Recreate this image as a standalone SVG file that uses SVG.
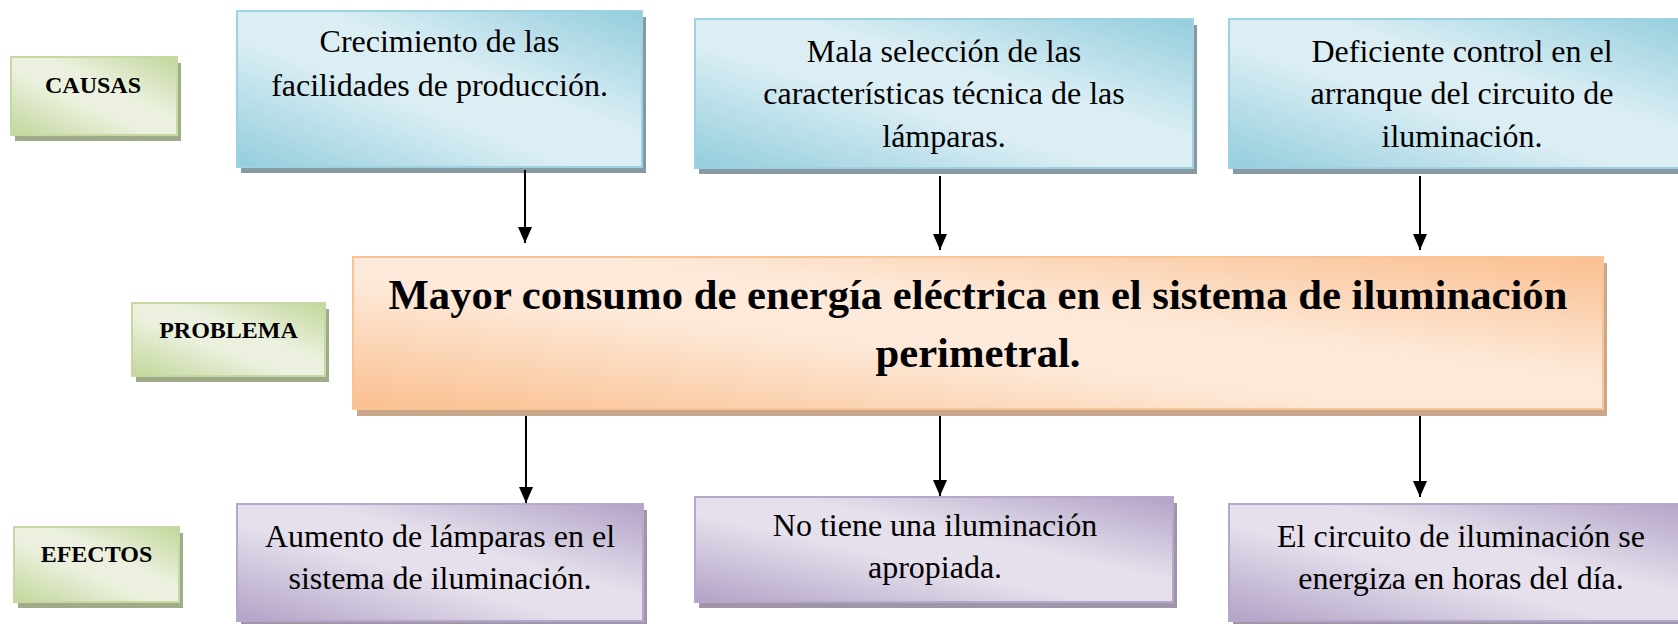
<svg xmlns="http://www.w3.org/2000/svg" width="1678" height="624" viewBox="0 0 1678 624">
<style>
.t{font-family:"Liberation Serif","Times New Roman",serif;font-size:32px;fill:#000;text-anchor:middle}
.lbl{font-family:"Liberation Serif","Times New Roman",serif;font-size:24px;font-weight:bold;fill:#000;text-anchor:middle}
.main{font-family:"Liberation Serif","Times New Roman",serif;font-size:42.7px;font-weight:bold;fill:#000;text-anchor:middle}
.blue{fill:url(#gBlue);stroke:#9fd2e0;stroke-width:2}
.org{fill:url(#gOrg);stroke:#f9c393;stroke-width:2}
.pur{fill:url(#gPur);stroke:#b7a8cb;stroke-width:2}
.grn{fill:url(#gGrn);stroke:#c7d9a2;stroke-width:2}
.sBlue{fill:#8799a2}
.sOrg{fill:#cba78b}
.sPur{fill:#9f97a9}
.sGrn{fill:#a0ab8a}
.arr{stroke:#000;stroke-width:2;fill:none;marker-end:url(#ah)}
</style>
<defs>
<linearGradient id="gBlue" x1="0" y1="1" x2="1" y2="0">
<stop offset="0" stop-color="#93cddd"/><stop offset="0.42" stop-color="#dbeef4"/><stop offset="0.6" stop-color="#dbeef4"/><stop offset="1" stop-color="#93cddd"/>
</linearGradient>
<linearGradient id="gOrg" x1="0" y1="1" x2="1" y2="0">
<stop offset="0" stop-color="#fabf8f"/><stop offset="0.42" stop-color="#fde9d9"/><stop offset="0.6" stop-color="#fde9d9"/><stop offset="1" stop-color="#fabf8f"/>
</linearGradient>
<linearGradient id="gPur" x1="0" y1="1" x2="1" y2="0">
<stop offset="0" stop-color="#b2a2c7"/><stop offset="0.42" stop-color="#e5e0ec"/><stop offset="0.6" stop-color="#e5e0ec"/><stop offset="1" stop-color="#b2a2c7"/>
</linearGradient>
<linearGradient id="gGrn" x1="0" y1="1" x2="1" y2="0">
<stop offset="0" stop-color="#c2d69b"/><stop offset="0.42" stop-color="#ebf1de"/><stop offset="0.6" stop-color="#ebf1de"/><stop offset="1" stop-color="#c2d69b"/>
</linearGradient>
<marker id="ah" viewBox="0 0 16 14" refX="16" refY="7" markerWidth="16" markerHeight="14" markerUnits="userSpaceOnUse" orient="auto">
<path d="M0,0 L16,7 L0,14 z" fill="#000"/>
</marker>
</defs>
<rect width="1678" height="624" fill="#fff"/>

<g id="causas">
<rect class="sGrn" x="15" y="63" width="166" height="78"/>
<rect class="grn" x="11" y="57" width="166" height="78"/>
<text class="lbl" x="93" y="93">CAUSAS</text>
</g>
<g id="problema-label">
<rect class="sGrn" x="136" y="309" width="193" height="73"/>
<rect class="grn" x="132" y="303" width="193" height="73"/>
<text class="lbl" x="228.5" y="338">PROBLEMA</text>
</g>
<g id="efectos">
<rect class="sGrn" x="18" y="533" width="165" height="75"/>
<rect class="grn" x="14" y="527" width="165" height="75"/>
<text class="lbl" x="96.5" y="562">EFECTOS</text>
</g>

<g id="causa1">
<rect class="sBlue" x="241" y="17" width="405" height="156"/>
<rect class="blue" x="237" y="11" width="405" height="156"/>
<text class="t" x="439.5" y="52">Crecimiento de las</text>
<text class="t" x="439.5" y="96">facilidades de producción.</text>
</g>
<g id="causa2">
<rect class="sBlue" x="699" y="25" width="498" height="149"/>
<rect class="blue" x="695" y="19" width="498" height="149"/>
<text class="t" x="944" y="62">Mala selección de las</text>
<text class="t" x="944" y="104">características técnica de las</text>
<text class="t" x="944" y="147">lámparas.</text>
</g>
<g id="causa3">
<rect class="sBlue" x="1233" y="25" width="470" height="149"/>
<rect class="blue" x="1229" y="19" width="470" height="149"/>
<text class="t" x="1462" y="62">Deficiente control en el</text>
<text class="t" x="1462" y="104">arranque del circuito de</text>
<text class="t" x="1462" y="147">iluminación.</text>
</g>

<g id="problema">
<rect class="sOrg" x="357" y="263" width="1250" height="153"/>
<rect class="org" x="353" y="257" width="1250" height="152"/>
<text class="main" x="978" y="309">Mayor consumo de energía eléctrica en el sistema de iluminación</text>
<text class="main" x="978" y="367">perimetral.</text>
</g>

<g id="efecto1">
<rect class="sPur" x="241" y="510" width="406" height="117"/>
<rect class="pur" x="237" y="504" width="406" height="117"/>
<text class="t" x="440" y="547">Aumento de lámparas en el</text>
<text class="t" x="440" y="589">sistema de iluminación.</text>
</g>
<g id="efecto2">
<rect class="sPur" x="699" y="503" width="478" height="105"/>
<rect class="pur" x="695" y="497" width="478" height="105"/>
<text class="t" x="935" y="536">No tiene una iluminación</text>
<text class="t" x="935" y="578">apropiada.</text>
</g>
<g id="efecto3">
<rect class="sPur" x="1233" y="510" width="466" height="117"/>
<rect class="pur" x="1229" y="504" width="466" height="117"/>
<text class="t" x="1461" y="547">El circuito de iluminación se</text>
<text class="t" x="1461" y="589">energiza en horas del día.</text>
</g>

<g id="connectors">
<line class="arr" x1="525" y1="170" x2="525" y2="243"/>
<line class="arr" x1="940" y1="176" x2="940" y2="250"/>
<line class="arr" x1="1420" y1="176" x2="1420" y2="250"/>
<line class="arr" x1="526" y1="416" x2="526" y2="503"/>
<line class="arr" x1="940" y1="416" x2="940" y2="496"/>
<line class="arr" x1="1420" y1="416" x2="1420" y2="497"/>
</g>
</svg>
